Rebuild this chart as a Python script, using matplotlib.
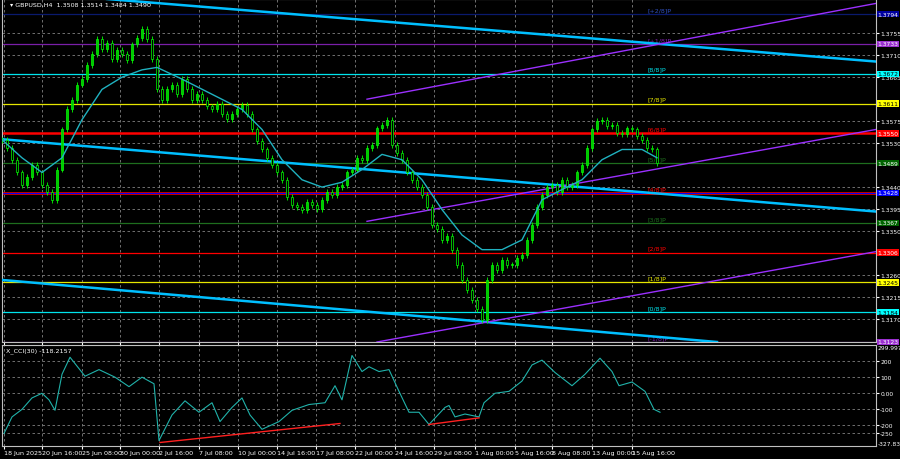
import matplotlib
matplotlib.use("Agg")
import matplotlib.pyplot as plt
import matplotlib.transforms as mtransforms
import numpy as np

# x positions are in screen-like units (0..875), closes sampled every 5 units
closes = [1.3537, 1.3520, 1.3496, 1.3470, 1.3445, 1.3460, 1.3486, 1.3470, 1.3445, 1.3430,
          1.3414, 1.3476, 1.3558, 1.3600, 1.3619, 1.3650, 1.3661, 1.3690, 1.3712, 1.3743,
          1.3722, 1.3735, 1.3702, 1.3720, 1.3712, 1.3700, 1.3732, 1.3745, 1.3763, 1.3743,
          1.3702, 1.3640, 1.3619, 1.3640, 1.3650, 1.3630, 1.3661, 1.3640, 1.3619, 1.3630,
          1.3619, 1.3605, 1.3599, 1.3610, 1.3589, 1.3580, 1.3589, 1.3600, 1.3609, 1.3589,
          1.3558, 1.3535, 1.3517, 1.3500, 1.3486, 1.3470, 1.3455, 1.3420, 1.3404, 1.3400,
          1.3394, 1.3410, 1.3404, 1.3395, 1.3414, 1.3430, 1.3424, 1.3440, 1.3445, 1.3470,
          1.3476, 1.3500, 1.3496, 1.3520, 1.3527, 1.3560, 1.3568, 1.3578, 1.3527, 1.3510,
          1.3496, 1.3470, 1.3455, 1.3440, 1.3424, 1.3400, 1.3363, 1.3355, 1.3332, 1.3340,
          1.3312, 1.3281, 1.3250, 1.3230, 1.3209, 1.3190, 1.3168, 1.3250, 1.3281, 1.3270,
          1.3291, 1.3280, 1.3281, 1.3295, 1.3301, 1.3332, 1.3363, 1.3400, 1.3424, 1.3440,
          1.3445, 1.3430, 1.3455, 1.3440, 1.3445, 1.3470, 1.3486, 1.3520, 1.3558, 1.3575,
          1.3578, 1.3565, 1.3568, 1.3550, 1.3548, 1.3560, 1.3558, 1.3545, 1.3537, 1.3520,
          1.3517, 1.3490]
ma_x = [0, 20, 40, 60, 80, 100, 120, 140, 155, 180, 210, 240, 260, 280, 300, 320, 340,
        360, 380, 400, 420, 440, 460, 480, 500, 520, 540, 560, 580, 600, 620, 640, 655]
ma_y = [1.3537, 1.3500, 1.3470, 1.3500, 1.3578, 1.3640, 1.3665, 1.3680, 1.3685, 1.3661,
        1.3630, 1.3599, 1.3558, 1.3496, 1.3455, 1.3440, 1.3450, 1.3476, 1.3507, 1.3496,
        1.3455, 1.3394, 1.3342, 1.3312, 1.3312, 1.3332, 1.3414, 1.3435, 1.3455, 1.3496,
        1.3517, 1.3517, 1.3500]

murray_levels = [1.3794, 1.3733, 1.3672, 1.3611, 1.3550, 1.3489, 1.3428, 1.3367,
                 1.3306, 1.3245, 1.3184, 1.3123]
murray_colors = ['#0a1a6e', '#7a1fa8', '#00e5ee', '#e6e600', '#ff0000', '#1e6e1e',
                 '#ff0000', '#1e6e1e', '#ff0000', '#e6e600', '#00e5ee', '#7a1fa8']
murray_box = ['#0000a0', '#9b30d0', '#00ffff', '#ffff00', '#ff0000', '#006400',
              '#0000ff', '#006400', '#ff0000', '#ffff00', '#00ffff', '#9b30d0']
murray_tags = ['[+2/8]P', '[+1/8]P', '[8/8]P', '[7/8]P', '[6/8]P', '[5/8]P',
               '[4/8]P', '[3/8]P', '[2/8]P', '[1/8]P', '[0/8]P', '[-1/8]P']
price_ticks = [1.3755, 1.3710, 1.3665, 1.3575, 1.3530, 1.3440, 1.3395, 1.3350,
               1.3260, 1.3215, 1.3170]

cci_x = [2, 10, 20, 30, 40, 47, 53, 60, 68, 83, 97, 113, 127, 140, 152, 157, 170, 183,
         197, 210, 218, 230, 240, 248, 260, 277, 290, 307, 323, 333, 340, 350, 360, 367,
         377, 387, 397, 407, 417, 427, 443, 447, 453, 463, 477, 482, 493, 507, 520, 530,
         540, 553, 570, 583, 598, 610, 617, 630, 643, 652, 658]
cci_v = [-250, -147, -100, -29, 0, -41, -106, 118, 224, 106, 147, 100, 41, 100, 59, -294,
         -135, -47, -118, -59, -176, -88, -29, -135, -224, -176, -106, -70, -59, 47, -41,
         235, 135, 165, 135, 147, 12, -118, -118, -194, -88, -76, -147, -129, -147, -59,
         0, 12, 76, 176, 206, 129, 47, 118, 218, 135, 47, 70, 12, -100, -118]

tick_pos = [2, 40, 80, 118, 157, 197, 236, 275, 314, 353, 393, 432, 473, 513, 550, 590, 630]
tick_lbl = ['18 Jun 2025', '20 Jun 16:00', '25 Jun 08:00', '30 Jun 00:00', '2 Jul 16:00',
            '7 Jul 08:00', '10 Jul 00:00', '14 Jul 16:00', '17 Jul 08:00', '22 Jul 00:00',
            '24 Jul 16:00', '29 Jul 08:00', '1 Aug 00:00', '5 Aug 16:00', '8 Aug 08:00',
            '13 Aug 00:00', '15 Aug 16:00']

plt.rcParams['font.family'] = 'DejaVu Sans'
FS = 4.6
FR = 4.3

W, H = 900, 460
fig = plt.figure(figsize=(W / 100, H / 100), dpi=100, facecolor='black')
ax = fig.add_axes([2 / W, 1 - 343 / H, 874 / W, 343 / H], facecolor='black')
ax2 = fig.add_axes([2 / W, 13 / H, 874 / W, 101 / H], facecolor='black')

ax.set_xlim(0, 874)
ax.set_ylim(1.3123, 1.3825)
ax2.set_xlim(0, 874)
ax2.set_ylim(-327.8, 299.99)

for a in (ax, ax2):
    for s in a.spines.values():
        s.set_color('#c0c0c0')
    a.grid(True, color='#808080', linestyle=(0, (3, 3)), linewidth=0.6)
    a.yaxis.tick_right()
    a.tick_params(colors='white', length=2, labelsize=FR, pad=1)
    a.tick_params(axis='x', labelsize=FS)

ax.set_xticks(tick_pos)
ax.set_xticklabels([])
ax.set_yticks(price_ticks)
ax.set_yticklabels(['%.4f' % p for p in price_ticks])
ax2.set_xticks(tick_pos)
ax2.set_xticklabels(tick_lbl, ha='left')
ax2.set_yticks([200, 100, 0, -100, -200, -250])
ax2.set_yticklabels(['200', '100', '0.00', '-100', '-200', '-250'])

# murray levels
tr = mtransforms.blended_transform_factory(ax.transAxes, ax.transData)
for lv, c, bc, tag in zip(murray_levels, murray_colors, murray_box, murray_tags):
    lw = 1.8 if lv in (1.3550, 1.3428) else 0.9
    ax.axhline(lv, color=c, linewidth=lw, zorder=2)
    tc = 'black' if bc in ('#00ffff', '#ffff00') else 'white'
    ax.text(1.002, lv, '%.4f' % lv, transform=tr, color=tc, fontsize=FR, va='center',
            ha='left', bbox=dict(boxstyle='square,pad=0.12', fc=bc, ec='none'),
            clip_on=False, zorder=6)
    ax.text(645, lv + 0.0004, tag, color=c if c != '#0a1a6e' else '#3050c0',
            fontsize=FS, va='bottom', ha='left', zorder=3)
ax.axhline(1.3428, color='#0000ff', linewidth=0.7, zorder=2)

# trend lines (cyan) and channel lines (purple)
ax.plot([0, 874], [1.3538, 1.3390], color='#00bfff', linewidth=1.8, zorder=3)
ax.plot([105, 874], [1.3825, 1.3697], color='#00bfff', linewidth=1.8, zorder=3)
ax.plot([0, 715], [1.3250, 1.3123], color='#00bfff', linewidth=1.8, zorder=3)
ax.plot([365, 874], [1.3620, 1.3816], color='#9b30ff', linewidth=1.0, zorder=3)
ax.plot([365, 874], [1.3370, 1.3558], color='#9b30ff', linewidth=1.0, zorder=3)
ax.plot([375, 874], [1.3123, 1.3308], color='#9b30ff', linewidth=1.0, zorder=3)

# candles
xs = np.arange(len(closes)) * 5
opens = [closes[0]] + closes[:-1]
for x, o, c in zip(xs, opens, closes):
    lo, hi = min(o, c), max(o, c)
    up = c >= o
    ax.vlines(x, lo - 0.0006, hi + 0.0006, color='#00ff00', linewidth=0.6, zorder=4)
    ax.bar(x, max(hi - lo, 0.0002), bottom=lo, width=2.5, color='#00c800' if up else '#000000',
           edgecolor='#00ff00', linewidth=0.5, zorder=5)
ax.plot(ma_x, ma_y, color='#20b2c0', linewidth=1.0, zorder=6)

ax.text(8, 1.3814, '\u25be GBPUSD,H4  1.3508 1.3514 1.3484 1.3490', color='white',
        fontsize=FS, va='center', zorder=7)

# CCI panel
ax2.plot(cci_x, cci_v, color='#20b2aa', linewidth=0.8)
ax2.plot([158, 338], [-306, -188], color='#ff2020', linewidth=1.0)
ax2.plot([427, 477], [-194, -153], color='#ff2020', linewidth=1.0)
ax2.text(4, 270, 'X_CCI(30) -118.2157', color='white', fontsize=FS, va='center')
tr2 = mtransforms.blended_transform_factory(ax2.transAxes, ax2.transData)
ax2.text(1.002, 285, '299.997', transform=tr2, color='white', fontsize=FR, va='center')
ax2.text(1.002, -315, '-327.83', transform=tr2, color='white', fontsize=FR, va='center')

fig.savefig('out.png', dpi=100, facecolor='black')
